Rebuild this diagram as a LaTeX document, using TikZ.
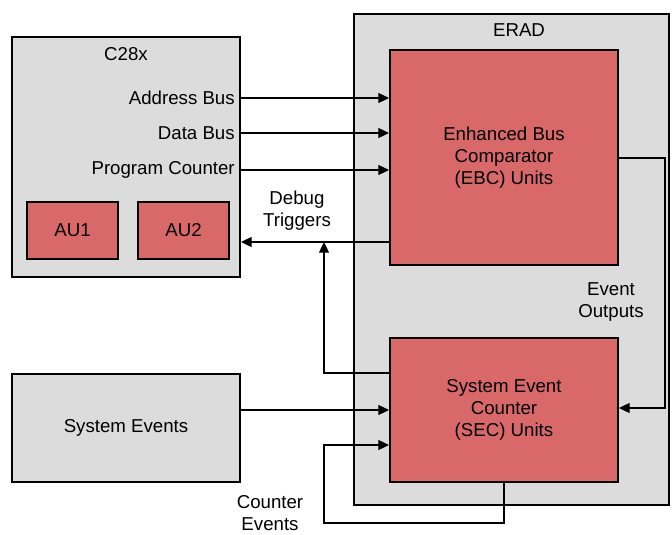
\documentclass[tikz,border=0pt]{standalone}
\usepackage{fontspec}
\setmainfont{Liberation Sans}
\usetikzlibrary{arrows.meta,positioning}
\definecolor{egray}{HTML}{DCDCDC}
\definecolor{ered}{HTML}{D96868}
\tikzset{
  box/.style={draw=black,fill=egray,line width=1.5pt,minimum width=171pt,inner sep=0pt},
  redbox/.style={draw=black,fill=ered,line width=1.5pt,inner sep=0pt,align=center},
  arr/.style={-{Triangle[length=8pt,width=7.5pt]},line width=0.9pt,draw=black},
  lbl/.style={font=\fontsize{14}{16.5}\selectfont,align=center,inner sep=0pt},
}
\begin{document}
\begin{tikzpicture}[x=0.75pt,y=-0.75pt,font=\fontsize{14}{16.5}\selectfont]
  \useasboundingbox (0,0) rectangle (672,535);
  % processor side
  \node[box,minimum height=180pt] (cpu) at (126,157) {};
  \node[lbl] (cpuname) at (126,54) {C28x};
  \node[lbl,anchor=east] (addr) at (235,98) {Address Bus};
  \node[lbl,anchor=east] (data) at (235,133) {Data Bus};
  \node[lbl,anchor=east] (pc) at (235,170) {Program Counter};
  \node[redbox,minimum width=68.25pt,minimum height=42.75pt] (au1) at (72.5,230.5) {AU1};
  \node[redbox,minimum width=68.25pt,minimum height=42.75pt] (au2) at (183.5,230.5) {AU2};
  \node[box,minimum height=81pt] (sysev) at (126,428) {System Events};
  % ERAD
  \node[box,minimum width=236pt,minimum height=368.25pt] (erad) at (511.5,259.5) {};
  \node[lbl] (eradname) at (519,30) {ERAD};
  \node[redbox,minimum width=171pt,minimum height=161.25pt] (ebc) at (504,157.5) {Enhanced Bus\\Comparator\\(EBC) Units};
  \node[redbox,minimum width=171pt,minimum height=108pt] (sec) at (504,410) {System Event\\Counter\\(SEC) Units};
  % bus signals
  \draw[arr] (addr.east -| cpu.east) -- (addr.east -| ebc.west);
  \draw[arr] (data.east -| cpu.east) -- (data.east -| ebc.west);
  \draw[arr] (pc.east -| cpu.east) -- (pc.east -| ebc.west);
  % debug triggers
  \coordinate (trig) at (324,242);
  \coordinate (trigsrc) at (324,373);
  \draw[arr] (ebc.west |- trig) -- (cpu.east |- trig);
  \draw[arr] (sec.west |- trigsrc) -- (trigsrc) -- (trig);
  \node[lbl] (triglbl) at (297,211) {Debug\\Triggers};
  % event outputs
  \coordinate (evout) at (665,158);
  \coordinate (evin) at (665,408);
  \draw[arr] (ebc.east |- evout) -- (evout) -- (evin) -- (sec.east |- evin);
  \node[lbl] (evlbl) at (611,302) {Event\\Outputs};
  % system events
  \coordinate (sysin) at (240,410);
  \draw[arr] (sysev.east |- sysin) -- (sec.west |- sysin);
  % counter events
  \coordinate (cnt1) at (504,523);
  \coordinate (cnt2) at (324,445);
  \draw[arr] (sec.south -| cnt1) -- (cnt1) -| (cnt2) -- (sec.west |- cnt2);
  \node[lbl] (cntlbl) at (270,513) {Counter\\Events};
\end{tikzpicture}
\end{document}
